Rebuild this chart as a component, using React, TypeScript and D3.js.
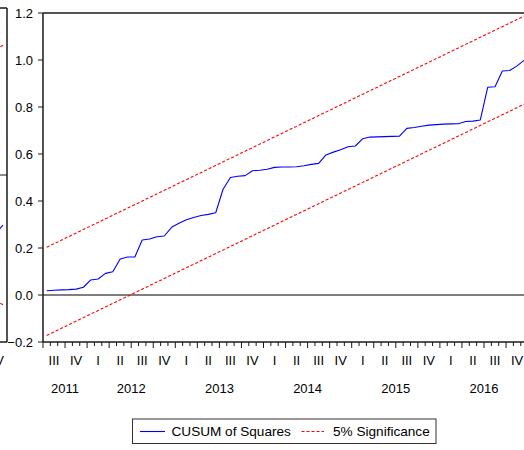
import React from "react";
import * as d3 from "d3";

// ---- data (monthly, 2011M07 .. 2016M12) ----
const startYear = 2011;
const startMonth = 7; // July
const years = [2011, 2012, 2013, 2014, 2015, 2016];
const quarterLabels = ["I", "II", "III", "IV"];
const yTicks = [-0.2, 0.0, 0.2, 0.4, 0.6, 0.8, 1.0, 1.2];

const cusumSq = [
  0.018, 0.020, 0.022, 0.023, 0.025, 0.033, 0.064, 0.068, 0.092, 0.099,
  0.153, 0.162, 0.162, 0.234, 0.238, 0.248, 0.251, 0.288, 0.305, 0.320,
  0.330, 0.338, 0.343, 0.350, 0.450, 0.500, 0.505, 0.508, 0.529, 0.531,
  0.535, 0.543, 0.545, 0.545, 0.546, 0.550, 0.556, 0.560, 0.596, 0.608,
  0.618, 0.631, 0.634, 0.665, 0.672, 0.673, 0.674, 0.675, 0.676, 0.709,
  0.713, 0.718, 0.723, 0.725, 0.727, 0.728, 0.729, 0.738, 0.740, 0.745,
  0.884, 0.886, 0.953, 0.955, 0.975, 1.0,
];
// 5% significance band: straight lines, values at first and last observation
const upperBand = [0.203, 1.1875];
const lowerBand = [-0.172, 0.8125];

// neighbouring (cropped) chart on the far left: last visible values
const neighbourCusum = [-10.4, -9.0];
const neighbourUpper = [22.6, 23.3];
const neighbourLower = [-22.6, -23.3];

const W = 524;
const H = 450;
const FONT = "'Liberation Sans', Arial, Helvetica, sans-serif";

export default function App() {
  const nObs = cusumSq.length;
  const left = 43;
  const top = 13;
  const bottom = 342;
  const monthW = 7.35;
  const right = left + 66 * monthW;

  const x = d3.scaleLinear().domain([0, 66]).range([left, right]);
  const y = d3.scaleLinear().domain([-0.2, 1.2]).range([bottom, top]);

  const line = d3
    .line<number>()
    .x((_, i) => x(i + 0.5))
    .y((d) => y(d));

  const bandLine = (b: number[]) =>
    d3
      .line<number>()
      .x((_, i) => x(i === 0 ? 0.5 : nObs - 0.5))
      .y((d) => y(d))(b) as string;

  const months = d3.range(0, 67);
  const quarters = d3.range(0, 22);

  // neighbour chart scales (only its right edge is visible)
  const nx = d3.scaleLinear().domain([0, 1]).range([-4, 3]);
  const ny = d3.scaleLinear().domain([-30, 30]).range([342, 8]);
  const nLine = d3
    .line<number>()
    .x((_, i) => nx(i))
    .y((d) => ny(d));

  const axisColor = "#1a1a1a";

  return (
    <svg
      width={W}
      height={H}
      style={{ position: "absolute", left: 0, top: 0, background: "#fff" }}
      fontFamily={FONT}
    >
      <defs>
        <clipPath id="plotClip">
          <rect x={left} y={top} width={right - left} height={bottom - top} />
        </clipPath>
        <clipPath id="nbClip">
          <rect x={-20} y={8} width={27} height={334} />
        </clipPath>
      </defs>
      <rect x={0} y={0} width={W} height={H} fill="#fff" />

      {/* neighbour chart fragment */}
      <g>
        <g clipPath="url(#nbClip)">
          <path d={nLine(neighbourUpper) as string} fill="none" stroke="#ff0000" strokeWidth={1.1} strokeDasharray="3,2" />
          <path d={nLine(neighbourLower) as string} fill="none" stroke="#ff0000" strokeWidth={1.1} strokeDasharray="3,2" />
          <path d={nLine(neighbourCusum) as string} fill="none" stroke="#0000ff" strokeWidth={1.1} />
        </g>
        <line x1={7} x2={7} y1={ny(30)} y2={ny(-30)} stroke={axisColor} strokeWidth={1.5} />
        <line x1={0} x2={7} y1={ny(30)} y2={ny(30)} stroke={axisColor} strokeWidth={1.5} />
        <line x1={0} x2={7} y1={ny(0)} y2={ny(0)} stroke={axisColor} strokeWidth={1} />
        <line x1={0} x2={7} y1={ny(-30)} y2={ny(-30)} stroke={axisColor} strokeWidth={1.5} />
        <text x={4} y={365} fontSize={13} textAnchor="end" fill="#000">IV</text>
      </g>

      {/* series */}
      <g clipPath="url(#plotClip)">
        <line x1={left} x2={right} y1={y(0)} y2={y(0)} stroke="#000" strokeWidth={1} />
        <path d={bandLine(upperBand)} fill="none" stroke="#ff0000" strokeWidth={1.1} strokeDasharray="3,2" />
        <path d={bandLine(lowerBand)} fill="none" stroke="#ff0000" strokeWidth={1.1} strokeDasharray="3,2" />
        <path d={line(cusumSq) as string} fill="none" stroke="#0000ff" strokeWidth={1.1} strokeLinejoin="round" />
      </g>

      {/* frame */}
      <line x1={left} x2={right} y1={top} y2={top} stroke={axisColor} strokeWidth={1.5} />
      <line x1={left} x2={left} y1={top} y2={bottom} stroke={axisColor} strokeWidth={1.5} />
      <line x1={left} x2={right} y1={bottom} y2={bottom} stroke={axisColor} strokeWidth={1.5} />

      {/* y axis */}
      {yTicks.map((t) => (
        <g key={t}>
          <line x1={left - 5} x2={left} y1={y(t)} y2={y(t)} stroke={axisColor} strokeWidth={1} />
          <text x={33} y={y(t) + 4.7} fontSize={13} textAnchor="end" fill="#000">
            {d3.format(".1f")(t)}
          </text>
        </g>
      ))}

      {/* x axis ticks */}
      {months.map((m) => {
        const monthOfYear = (startMonth - 1 + m) % 12;
        const isQuarter = monthOfYear % 3 === 0;
        return (
          <line
            key={m}
            x1={x(m)}
            x2={x(m)}
            y1={bottom}
            y2={bottom + (isQuarter ? 6 : 4)}
            stroke={axisColor}
            strokeWidth={1}
          />
        );
      })}
      {quarters.map((q) => {
        const qIdx = (Math.floor((startMonth - 1) / 3) + q) % 4;
        return (
          <text key={q} x={x(q * 3 + 1.5)} y={365} fontSize={13} textAnchor="middle" fill="#000">
            {quarterLabels[qIdx]}
          </text>
        );
      })}
      {years.map((yr) => {
        const s = Math.max(0, (yr - startYear) * 12 - (startMonth - 1));
        const e = Math.min(66, (yr - startYear + 1) * 12 - (startMonth - 1));
        return (
          <text key={yr} x={x((s + e) / 2)} y={393} fontSize={13} textAnchor="middle" fill="#000">
            {yr}
          </text>
        );
      })}

      {/* legend */}
      <g>
        <rect x={132.5} y={419} width={303.5} height={24.5} fill="#fff" stroke="#333" strokeWidth={1} />
        <line x1={140} x2={165} y1={431.5} y2={431.5} stroke="#0000ff" strokeWidth={1.1} />
        <text x={171.5} y={436} fontSize={13.6} fill="#000">CUSUM of Squares</text>
        <line x1={301.5} x2={324} y1={431.5} y2={431.5} stroke="#ff0000" strokeWidth={1.1} strokeDasharray="3,2" />
        <text x={333} y={436} fontSize={13.6} fill="#000">5% Significance</text>
      </g>
    </svg>
  );
}
